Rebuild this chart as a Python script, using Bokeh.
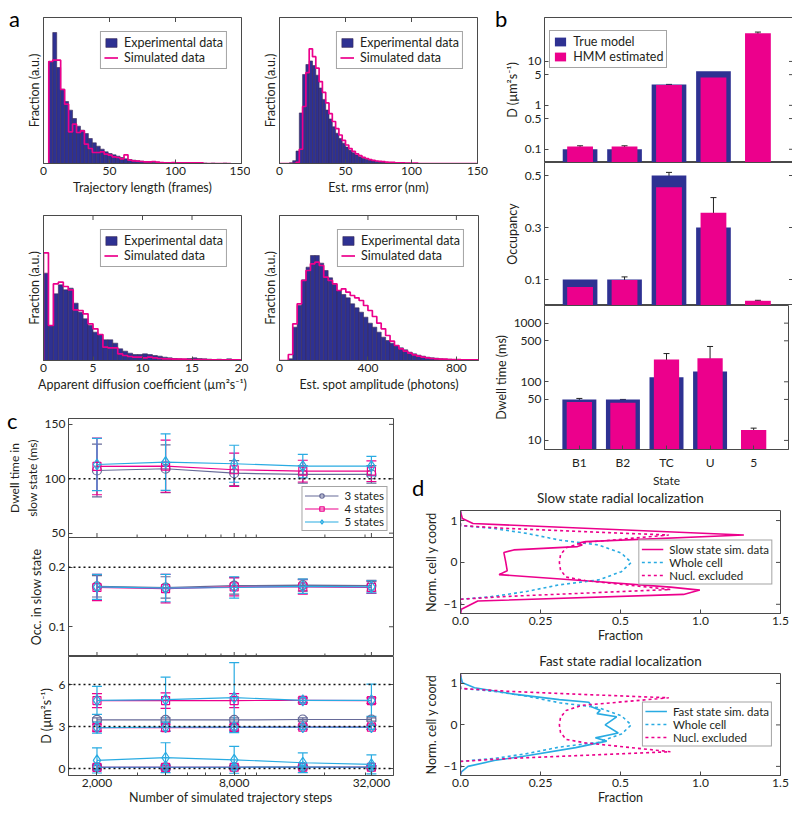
import math
from bokeh.plotting import figure
from bokeh.models import (Range1d, FixedTicker, Legend, LegendItem, Whisker, Div,
                          ColumnDataSource, NumeralTickFormatter, Span, GridBox, TeeHead)
from bokeh.layouts import column
from bokeh.embed import file_html
from bokeh.resources import INLINE

FONT = "Lato"
NAVY = "#2e3192"
PINK = "#ec008c"
CYAN = "#29abe2"
SLATE = "#666a98"
AXC = "#4a4a4a"
TXT = "#231f20"

# ---------------- panel a : histograms ----------------
traj_bin_start, traj_bin_width = 4, 3
traj_exp = [306, 393, 288, 223, 186, 160, 135, 112, 100, 90, 75, 62, 52, 43, 35, 30, 26, 22, 18, 14,
            12, 10, 8, 7, 6, 5, 4, 4, 3, 3, 2, 2, 2, 1, 1, 1, 1, 2, 0, 1, 0, 1, 0, 0, 1, 0]
traj_sim = [306, 310, 310, 222, 178, 95, 118, 93, 98, 58, 45, 33, 33, 35, 28, 25, 20, 18, 14, 26,
            10, 8, 7, 6, 5, 5, 6, 4, 3, 2, 2, 3, 2, 2, 2, 2, 2, 2, 2, 0, 0, 0, 0, 0, 0, 0]

rms_bin_start, rms_bin_width = 0, 2.5
rms_exp = [0, 0, 0, 2, 8, 35, 142, 250, 278, 288, 275, 248, 212, 180, 150, 125, 103, 85, 70, 57,
           46, 37, 30, 24, 19, 15, 12, 10, 8, 6, 5, 4, 3, 3, 2, 2, 1, 1, 1, 1,
           0, 0, 0, 0, 0, 0, 0, 0, 0, 0, 0, 0, 0, 0, 0, 0, 0, 0, 0, 0]
rms_sim = [0, 0, 0, 0, 0, 3, 40, 160, 255, 322, 300, 268, 230, 200, 170, 140, 118, 98, 80, 65,
           52, 42, 34, 27, 22, 17, 14, 11, 9, 7, 6, 5, 4, 3, 3, 2, 2, 2, 1, 1,
           1, 1, 0, 0, 0, 0, 0, 0, 0, 0, 0, 0, 0, 0, 0, 0, 0, 0, 0, 0]

dapp_bin_start, dapp_bin_width = 0, 0.5
dapp_exp = [262, 105, 200, 227, 212, 217, 172, 145, 125, 105, 85, 78, 62, 62, 52, 35, 28, 22, 18, 18,
            20, 18, 15, 13, 10, 8, 6, 5, 4, 6, 8, 6, 5, 4, 3, 4, 3, 5, 3, 3]
dapp_sim = [323, 105, 230, 235, 222, 212, 152, 150, 140, 110, 95, 78, 40, 38, 38, 20, 15, 12, 10, 10,
            8, 10, 8, 6, 5, 5, 4, 4, 4, 3, 3, 3, 3, 2, 2, 2, 2, 2, 2, 2]

amp_bin_start, amp_bin_width = 0, 20
amp_exp = [0, 0, 5, 100, 165, 242, 280, 315, 315, 292, 270, 248, 228, 210, 198, 188, 170, 158, 145, 130,
           112, 100, 85, 70, 60, 52, 45, 38, 32, 25, 20, 16, 13, 10, 8, 7, 5, 4, 4, 3, 2, 2, 2, 1, 1]
amp_sim = [0, 0, 18, 110, 170, 240, 270, 290, 295, 285, 250, 240, 230, 210, 215, 205, 195, 188, 180, 165,
           150, 132, 112, 95, 75, 58, 45, 35, 28, 22, 17, 13, 10, 8, 6, 5, 4, 4, 3, 3, 3, 2, 2, 2, 2]

# ---------------- panel b ----------------
states = ["B1", "B2", "TC", "U", "5"]
true_states = ["B1", "B2", "TC", "U"]
D_true = [0.1, 0.1, 3.0, 6.0]
D_hmm = [0.115, 0.115, 2.9, 4.3, 44.0]
D_hmm_err = [0.005, 0.005, 0.1, 0.2, 2.6]
occ_true = [0.1, 0.1, 0.5, 0.3]
occ_hmm = [0.071, 0.098, 0.455, 0.357, 0.018]
occ_hmm_err = [0.011, 0.012, 0.057, 0.058, 0.002]
dwell_true = [50, 50, 120, 150]
dwell_hmm = [45, 44, 240, 253, 15]
dwell_hmm_err = [7, 6, 63, 147, 1.2]

# ---------------- panel c ----------------
steps = [2000, 4000, 8000, 16000, 32000]
dwell3 = [107.6, 109.2, 105.1, 104.0, 104.0]
dwell3_err = [24.2, 21.9, 11.5, 8.0, 8.0]
dwell4 = [111.3, 111.6, 108.3, 107.0, 107.0]
dwell4_err = [26.0, 24.0, 15.3, 10.0, 9.5]
dwell5 = [113.1, 115.3, 113.8, 111.6, 111.6]
dwell5_err = [24.0, 26.0, 17.0, 10.8, 9.0]
occ3 = [0.168, 0.166, 0.169, 0.170, 0.169]
occ3_err = [0.018, 0.018, 0.014, 0.010, 0.009]
occ4 = [0.166, 0.164, 0.167, 0.167, 0.166]
occ4_err = [0.022, 0.024, 0.015, 0.012, 0.010]
occ5 = [0.167, 0.165, 0.166, 0.168, 0.167]
occ5_err = [0.021, 0.023, 0.018, 0.012, 0.010]
D3 = [[0.09, 0.09, 0.09, 0.10, 0.10], [3.47, 3.47, 3.47, 3.50, 3.50]]
D3_err = [[0.12, 0.10, 0.10, 0.08, 0.08], [0.15, 0.15, 0.15, 0.12, 0.12]]
D4 = [[0.08, 0.08, 0.09, 0.09, 0.09], [2.92, 2.92, 2.94, 2.95, 2.95], [4.85, 4.85, 4.85, 4.87, 4.85]]
D4_err = [[0.15, 0.15, 0.12, 0.10, 0.10], [0.25, 0.25, 0.20, 0.15, 0.15], [0.50, 0.55, 0.50, 0.15, 0.20]]
D5 = [[0.09, 0.09, 0.09, 0.10, 0.09], [0.58, 0.77, 0.62, 0.41, 0.29], [2.92, 2.95, 2.95, 2.95, 2.95],
      [4.87, 4.92, 5.06, 4.87, 4.87]]
D5_err = [[0.20, 0.20, 0.15, 0.12, 0.12], [0.90, 1.07, 0.96, 0.70, 0.68], [0.40, 0.30, 0.30, 0.15, 0.15],
          [1.00, 1.60, 2.50, 0.20, 1.15]]
dwell_ref, occ_ref, D_refs = 100, 0.2, [0, 3, 6]

# ---------------- panel d ----------------
frac_ticks = [0, 0.5, 1.0, 1.5, 2.0]
frac_tick_labels = ["0.0", "0.25", "0.5", "1.0", "1.5"]
slow_frac = [0, 0.012, 0.078, 1.771, 0.782, 0.731, 0.761, 0.731, 0.333, 0.271, 0.282, 0.292, 0.241,
             0.822, 1.312, 1.496, 1.394, 0.108, 0.006, 0]
slow_y = [1.22, 1.047, 0.929, 0.654, 0.496, 0.457, 0.417, 0.378, 0.299, 0.236, 0.024, -0.197, -0.291,
          -0.449, -0.591, -0.661, -0.764, -0.921, -1.118, -1.236]
fast_frac = [0, 0.012, 0.088, 0.333, 0.618, 0.802, 0.822, 0.873, 0.853, 0.976, 0.904, 0.986, 0.843,
             0.914, 0.72, 0.414, 0.21, 0.047, 0.006, 0]
fast_y = [1.195, 1.016, 0.898, 0.742, 0.609, 0.547, 0.43, 0.352, 0.273, 0.195, 0.0, -0.195, -0.312,
          -0.391, -0.547, -0.742, -0.86, -1.0, -1.133, -1.21]
whole_frac = [0, 0, 0.21, 0.414, 0.618, 0.863, 1.006, 1.067, 1.006, 0.863, 0.618, 0.414, 0.21, 0, 0]
whole_y = [1.22, 0.88, 0.81, 0.693, 0.535, 0.417, 0.22, 0, -0.22, -0.417, -0.535, -0.693, -0.81, -0.88, -1.22]
nucl_frac = [0, 0, 0.3, 0.8, 1.302, 0.761, 0.66, 0.625, 0.618, 0.625, 0.66, 0.78, 1.312, 0.8, 0.3, 0, 0]
nucl_y = [1.22, 0.88, 0.81, 0.73, 0.654, 0.472, 0.35, 0.18, 0, -0.18, -0.35, -0.433, -0.646, -0.73,
          -0.81, -0.88, -1.22]


def mkfig(xr, yr, fw, fh, bl, br, bt, bb, x_type="linear", y_type="linear", x_loc="below",
          y_loc="left", title=None):
    p = figure(frame_width=fw, frame_height=fh, x_range=xr, y_range=yr,
               x_axis_type=x_type, y_axis_type=y_type,
               x_axis_location=x_loc, y_axis_location=y_loc, title=title,
               output_backend="svg", toolbar_location=None,
               min_border_left=bl, min_border_right=br, min_border_top=bt, min_border_bottom=bb)
    p.outline_line_color = AXC
    p.outline_line_width = 1
    p.outline_line_alpha = 1
    p.xgrid.visible = False
    p.ygrid.visible = False
    p.background_fill_color = "white"
    p.border_fill_color = "white"
    for ax in p.axis:
        ax.axis_line_color = AXC
        ax.major_tick_line_color = AXC
        ax.minor_tick_line_color = AXC
        ax.major_tick_in = 4
        ax.major_tick_out = 0
        ax.minor_tick_in = 0
        ax.minor_tick_out = 0
        ax.major_label_text_font = FONT
        ax.major_label_text_font_size = "12px"
        ax.major_label_text_color = TXT
        ax.axis_label_text_font = FONT
        ax.axis_label_text_font_size = "12.5px"
        ax.axis_label_text_font_style = "normal"
        ax.axis_label_text_color = TXT
        ax.major_label_standoff = 3
        ax.axis_label_standoff = 2
    return p


def edge_ticks(p, side, ticks, size=9):
    """Box-style tick marks on the opposite frame edge (half of each dash is clipped by the frame)."""
    n = len(ticks)
    if side == "right":
        xs, ys, ang = [p.x_range.end] * n, ticks, 0.0
    elif side == "top":
        xs, ys, ang = ticks, [p.y_range.end] * n, math.pi / 2
    else:
        xs, ys, ang = ticks, [p.y_range.start] * n, math.pi / 2
    p.scatter(xs, ys, marker="dash", size=size, angle=ang, line_color=AXC, line_width=1)


def style_legend(leg, fs="12px"):
    leg.label_text_font = FONT
    leg.label_text_font_size = fs
    leg.label_text_color = TXT
    leg.border_line_color = AXC
    leg.border_line_width = 1
    leg.background_fill_alpha = 1
    leg.padding = 3
    leg.spacing = 0
    leg.label_standoff = 6
    leg.glyph_width = 14
    leg.glyph_height = 11
    leg.label_height = 12


def step_xy(start, width, vals):
    xs, ys = [start], [0]
    for i, v in enumerate(vals):
        left = start + i * width
        xs += [left, left + width]
        ys += [v, v]
    xs.append(start + len(vals) * width)
    ys.append(0)
    return xs, ys


def hist_panel(start, width, exp, sim, xr, ymax, xticks, xlabel, borders, fw):
    bl, br, bt, bb, fh = borders
    p = mkfig(Range1d(*xr), Range1d(0, ymax), fw, fh, bl, br, bt, bb)
    left = [start + i * width for i in range(len(exp)) if exp[i] > 0]
    tops = [v for v in exp if v > 0]
    right = [l + width for l in left]
    r1 = p.quad(left=left, right=right, bottom=0, top=tops, fill_color=NAVY,
                line_color="#3b2c55", line_width=0.6)
    sx, sy = step_xy(start, width, sim)
    r2 = p.line(sx, sy, line_color=PINK, line_width=1.7)
    p.xaxis.ticker = FixedTicker(ticks=xticks)
    p.xaxis.axis_label = xlabel
    p.yaxis.ticker = FixedTicker(ticks=[])
    p.yaxis.axis_label = "Fraction (a.u.)"
    edge_ticks(p, "top", xticks)
    leg = Legend(items=[LegendItem(label="Experimental data", renderers=[r1]),
                        LegendItem(label="Simulated data", renderers=[r2])],
                 location="top_right", margin=14)
    style_legend(leg, "12.5px")
    p.add_layout(leg)
    return p


a1 = hist_panel(traj_bin_start, traj_bin_width, traj_exp, traj_sim, (0, 150), 438, [0, 50, 100, 150],
                "Trajectory length (frames)", (43, 9, 17, 40, 146), 198)
a2 = hist_panel(rms_bin_start, rms_bin_width, rms_exp, rms_sim, (0, 150), 410, [0, 50, 100, 150],
                "Est. rms error (nm)", (29, 13, 17, 40, 146), 198)
a3 = hist_panel(dapp_bin_start, dapp_bin_width, dapp_exp, dapp_sim, (0, 20), 435, [0, 5, 10, 15, 20],
                "Apparent diffusion coefficient (µm²s⁻¹)", (43, 9, 12, 40, 145), 198)
a4 = hist_panel(amp_bin_start, amp_bin_width, amp_exp, amp_sim, (0, 900), 435, [0, 400, 800],
                "Est. spot amplitude (photons)", (28, 13, 12, 40, 145), 199)

# ---------------- panel b ----------------
pos_all = list(range(1, len(states) + 1))
pos_true = [states.index(s) + 1 for s in true_states]


def bar_panel(yr, y_type, fh, bt, bb, true_vals, hmm_vals, hmm_err, yticks, fmt, ylabel, x_loc, title=None):
    p = mkfig(Range1d(0.2, 5.8), yr, 249, fh, 49, 4, bt, bb, y_type=y_type, x_loc=x_loc, title=title)
    base = yr.start
    r1 = p.vbar(x=pos_true, top=true_vals, bottom=base, width=0.78, fill_color=NAVY, line_color=None)
    r2 = p.vbar(x=pos_all, top=hmm_vals, bottom=base, width=0.58, fill_color=PINK, line_color=None)
    src = ColumnDataSource(dict(x=pos_all, lo=[v - e for v, e in zip(hmm_vals, hmm_err)],
                                hi=[v + e for v, e in zip(hmm_vals, hmm_err)]))
    w = Whisker(source=src, base="x", lower="lo", upper="hi", line_color="#222222", line_width=1,
                upper_head=TeeHead(size=6, line_color="#222222", line_width=1),
                lower_head=TeeHead(size=6, line_color="#222222", line_width=1))
    p.add_layout(w)
    p.yaxis.ticker = FixedTicker(ticks=yticks)
    p.yaxis.formatter = NumeralTickFormatter(format=fmt)
    p.yaxis.axis_label = ylabel
    edge_ticks(p, "right", yticks)
    return p, r1, r2


b1, rb1, rb2 = bar_panel(Range1d(0.05, 100), "log", 145, 17, 0, D_true, D_hmm, D_hmm_err,
                         [0.1, 0.5, 1, 5, 10], "0.[0]", "D (µm²s⁻¹)", None, title="")
b2, _, _ = bar_panel(Range1d(0, 0.55), "linear", 143, 0, 0, occ_true, occ_hmm, occ_hmm_err,
                     [0.1, 0.3, 0.5], "0.0", "Occupancy", None)
b3, _, _ = bar_panel(Range1d(7, 2000), "log", 146, 0, 39, dwell_true, dwell_hmm, dwell_hmm_err,
                     [10, 50, 100, 500, 1000], "0", "Dwell time (ms)", "below")
b3.xaxis.ticker = FixedTicker(ticks=pos_all)
b3.xaxis.major_label_overrides = {i + 1: s for i, s in enumerate(states)}
b3.xaxis.axis_label = "State"
b3.xaxis.major_label_standoff = 5
b3.xaxis.axis_label_standoff = 0
b3.xaxis.axis_label_text_font_size = "12px"
legb = Legend(items=[LegendItem(label="True model", renderers=[rb1]),
                     LegendItem(label="HMM estimated", renderers=[rb2])],
              location="top_left", margin=13)
style_legend(legb, "12.5px")
b1.add_layout(legb)

# ---------------- panel c ----------------
c_xr = (1500, 40000)
c_minor = [3000, 4000, 5000, 6000, 7000, 9000, 10000, 20000, 30000]


def c_fig(yr, fh, bt, bb, x_loc):
    return mkfig(Range1d(*c_xr), yr, 325, fh, 68, 27, bt, bb, x_type="log", x_loc=x_loc)


def series(p, y, err, color, marker, size):
    rl = p.line(steps, y, line_color=color, line_width=1.2)
    rm = p.scatter(steps, y, marker=marker, size=size, line_color=color, fill_alpha=0, line_width=1.2)
    src = ColumnDataSource(dict(x=steps, lo=[v - e for v, e in zip(y, err)],
                                hi=[v + e for v, e in zip(y, err)]))
    w = Whisker(source=src, base="x", lower="lo", upper="hi", line_color=color, line_width=1.2,
                upper_head=TeeHead(size=10, line_color=color, line_width=1.2),
                lower_head=TeeHead(size=10, line_color=color, line_width=1.2))
    p.add_layout(w)
    return rl, rm


def ref_line(p, loc):
    p.add_layout(Span(location=loc, dimension="width", line_color="#111111", line_dash="2 3",
                      line_width=1.5))


OVERLAP = 7
# c1 keeps a few transparent pixels below its frame so that its lowest tick label is not cut;
# c2 is pulled up over that strip.
c1 = c_fig(Range1d(46.0, 155.4), 119, 18, OVERLAP, None)
c1.border_fill_alpha = 0
ref_line(c1, dwell_ref)
l3 = series(c1, dwell3, dwell3_err, SLATE, "circle", 9)
l4 = series(c1, dwell4, dwell4_err, PINK, "square", 8)
l5 = series(c1, dwell5, dwell5_err, CYAN, "diamond", 11)
c1.yaxis.ticker = FixedTicker(ticks=[50, 100, 150])
c1.yaxis.axis_label = "Dwell time in\nslow state (ms)"
c1.yaxis.axis_label_text_font_size = "12px"
edge_ticks(c1, "right", [50, 100, 150])
edge_ticks(c1, "bottom", steps[::2])
edge_ticks(c1, "bottom", c_minor, size=6)
legc = Legend(items=[LegendItem(label="3 states", renderers=list(l3)),
                     LegendItem(label="4 states", renderers=list(l4)),
                     LegendItem(label="5 states", renderers=list(l5))],
              location="bottom_right", margin=6)
style_legend(legc, "11.5px")
legc.glyph_width = 34
legc.padding = 2
legc.label_height = 11
c1.add_layout(legc)

c2 = c_fig(Range1d(0.05, 0.25), 119, 0, 0, None)
c2.margin = (-OVERLAP, 0, 0, 0)
c2.border_fill_alpha = 0
c2.background_fill_alpha = 0
ref_line(c2, occ_ref)
series(c2, occ3, occ3_err, SLATE, "circle", 9)
series(c2, occ4, occ4_err, PINK, "square", 8)
series(c2, occ5, occ5_err, CYAN, "diamond", 11)
c2.yaxis.ticker = FixedTicker(ticks=[0.1, 0.2])
c2.yaxis.formatter = NumeralTickFormatter(format="0.0")
c2.yaxis.axis_label = "Occ. in slow state"
edge_ticks(c2, "right", [0.1, 0.2])
edge_ticks(c2, "bottom", steps[::2])
edge_ticks(c2, "bottom", c_minor, size=6)

c3 = c_fig(Range1d(-0.5, 8), 119, 0, 32, "below")
for r in D_refs:
    ref_line(c3, r)
for y, e in zip(D3, D3_err):
    series(c3, y, e, SLATE, "circle", 9)
for y, e in zip(D4, D4_err):
    series(c3, y, e, PINK, "square", 8)
for y, e in zip(D5, D5_err):
    series(c3, y, e, CYAN, "diamond", 11)
c3.yaxis.ticker = FixedTicker(ticks=[0, 3, 6])
c3.yaxis.axis_label = "D (µm²s⁻¹)"
c3.xaxis.ticker = FixedTicker(ticks=steps[::2], minor_ticks=c_minor)
c3.xaxis.formatter = NumeralTickFormatter(format="0,0")
c3.xaxis.minor_tick_in = 3
c3.xaxis.axis_label = "Number of simulated trajectory steps"
c3.xaxis.axis_label_standoff = 0
edge_ticks(c3, "right", [0, 3, 6])


# ---------------- panel d ----------------
def d_fig(fh, bt, bb, title, main_x, main_y, main_color, main_label):
    p = mkfig(Range1d(0, 2), Range1d(-1.22, 1.24), 327, fh, 33, 12, bt, bb, title=title)
    r0 = p.line(main_x, main_y, line_color=main_color, line_width=1.6)
    r1 = p.line(whole_frac, whole_y, line_color=CYAN, line_width=1.6, line_dash="3 3")
    r2 = p.line(nucl_frac, nucl_y, line_color=PINK, line_width=1.6, line_dash="3 3")
    p.xaxis.ticker = FixedTicker(ticks=frac_ticks)
    p.xaxis.major_label_overrides = {t: s for t, s in zip(frac_ticks, frac_tick_labels)}
    p.xaxis.axis_label = "Fraction"
    p.xaxis.axis_label_standoff = 0
    p.yaxis.ticker = FixedTicker(ticks=[-1, 0, 1])
    p.yaxis.axis_label = "Norm. cell y coord"
    edge_ticks(p, "right", [-1, 0, 1])
    p.title.align = "center"
    p.title.text_font = FONT
    p.title.text_font_size = "13.5px"
    p.title.text_font_style = "normal"
    p.title.text_color = TXT
    leg = Legend(items=[LegendItem(label=main_label, renderers=[r0]),
                        LegendItem(label="Whole cell", renderers=[r1]),
                        LegendItem(label="Nucl. excluded", renderers=[r2])],
                 location="center_right", margin=8)
    style_legend(leg, "11.5px")
    leg.glyph_width = 22
    leg.padding = 2
    p.add_layout(leg)
    return p


d1 = d_fig(104, 27, 31, "Slow state radial localization", slow_frac, slow_y, PINK, "Slow state sim. data")
d1.border_fill_alpha = 0
d2 = d_fig(103, 28, 32, "Fast state radial localization", fast_frac, fast_y, CYAN, "Fast state sim. data")


# ---------------- panel letters (overlaid on the grid) ----------------
def letter(txt, left, top):
    return Div(text=txt, width=24, height=28, margin=(top, 0, 0, left), align="start",
               styles={"font-family": FONT, "font-size": "22px", "line-height": "22px",
                       "color": "#000000"})


letters = [letter("a", 9, 8), letter("b", 495, 8), letter("c", 7, 410), letter("d", 412, 477)]

# grid tracks (px): rows 0-162-203-305-400-482-490-807, cols 0-250-420-490-792
children = [
    (a1, 0, 0, 2, 1), (a2, 0, 1, 2, 2),
    (a3, 2, 0, 2, 1), (a4, 2, 1, 2, 2),
    (b1, 0, 3), (b2, 1, 3, 2, 1), (b3, 3, 3, 3, 1),
    (column(c1, c2, c3, spacing=0), 4, 0, 3, 2),
    (column(d1, d2, spacing=0), 5, 2, 2, 2),
]
children += [(lt, 0, 0, 7, 4) for lt in letters]

grid = GridBox(children=children,
               rows=["162px", "41px", "102px", "95px", "82px", "8px", "317px"],
               cols=["250px", "170px", "70px", "302px"], spacing=0)

open("out.html", "w").write(file_html(grid, INLINE))
